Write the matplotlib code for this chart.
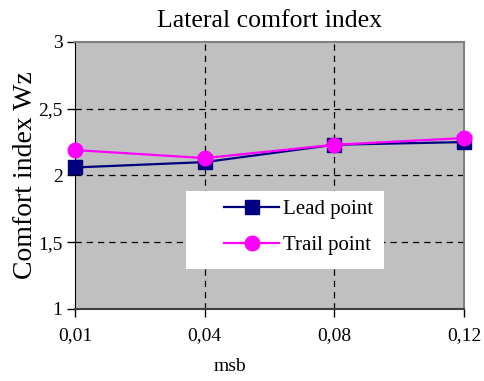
import matplotlib
matplotlib.use("Agg")
import matplotlib.pyplot as plt
from matplotlib.patches import Rectangle

plt.rcParams["font.family"] = ["Liberation Serif", "DejaVu Serif"]

# msb settings and comfort index values for both measuring points
msb_labels = ["0,01", "0,04", "0,08", "0,12"]
lead_point = [2.06, 2.10, 2.23, 2.25]
trail_point = [2.19, 2.13, 2.23, 2.28]
y_ticks = [1, 1.5, 2, 2.5, 3]
y_tick_labels = ["1", "1,5", "2", "2,5", "3"]

fig = plt.figure(figsize=(4.84, 3.81), dpi=100)
ax = fig.add_axes([0.155, 0.189, 0.804, 0.701])
ax.set_facecolor("#c0c0c0")

x = list(range(len(msb_labels)))
ax.plot(x, lead_point, color="#000080", lw=1.6, marker="s", ms=10.5,
        mfc="#000080", mec="#000080", label="Lead point", zorder=3,
        clip_on=False)
ax.plot(x, trail_point, color="#ff00ff", lw=1.6, marker="o", ms=10.5,
        mfc="#ff00ff", mec="#ff00ff", label="Trail point", zorder=4,
        clip_on=False)

ax.set_xlim(0, 3)
ax.set_ylim(1, 3)
ax.set_xticks(x)
ax.set_xticklabels(msb_labels)
ax.set_yticks(y_ticks)
ax.set_yticklabels(y_tick_labels)
ax.tick_params(axis="both", labelsize=14, direction="out", length=6, width=1, color="black")
ax.tick_params(axis="x", pad=7)
ax.tick_params(axis="y", pad=3)

# dashed grid at the interior positions only
for xi in x[1:-1]:
    ax.axvline(xi, color="black", ls=(0, (5, 4)), lw=0.9, zorder=1)
for yv in y_ticks[1:-1]:
    ax.axhline(yv, color="black", ls=(0, (5, 4)), lw=0.9, zorder=1)

for side in ("top", "right"):
    ax.spines[side].set_color("#808080")
    ax.spines[side].set_linewidth(1.5)
ax.spines["left"].set_color("black")
ax.spines["bottom"].set_color("#404040")
ax.spines["bottom"].set_linewidth(1.5)

ax.set_title("Lateral comfort index", fontsize=18.5, pad=11)
ax.set_xlabel("msb", fontsize=14)
ax.xaxis.set_label_coords(0.397, -0.185)
ax.set_ylabel("Comfort index Wz", fontsize=20, labelpad=0)

# white legend panel
ax.add_patch(Rectangle((0.285, 0.150), 0.51, 0.292, transform=ax.transAxes,
                       facecolor="white", edgecolor="none", zorder=5))
leg = ax.legend(loc="upper left", bbox_to_anchor=(0.383, 0.41), fontsize=15,
                frameon=False, handlelength=2.65, handletextpad=0.2,
                labelspacing=0.8, borderpad=0, borderaxespad=0)
leg.set_zorder(6)

fig.savefig("out.png", dpi=100)
